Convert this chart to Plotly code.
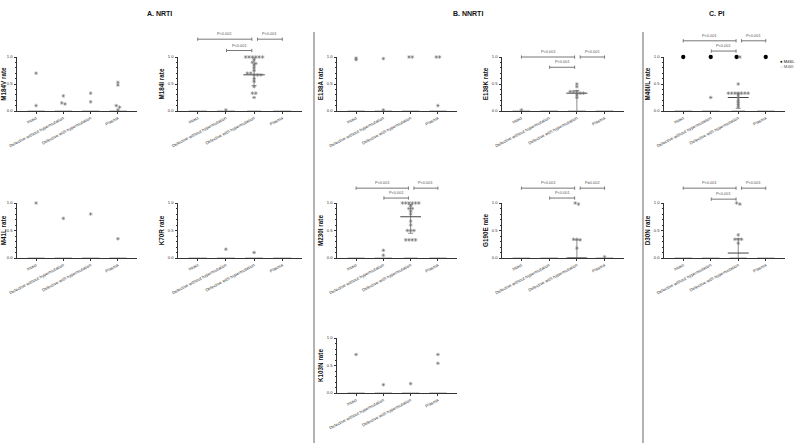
import plotly.graph_objects as go

W, H = 800, 443

categories = ["Intact", "Defective without hypermutation",
              "Defective with hypermutation", "Plasma"]
y_ticks = [0.0, 0.5, 1.0]
y_tick_labels = ["0.0", "0.5", "1.0"]

# ---- non-zero rates per category ----
m184v_vals = [[0.70, 0.10], [0.28, 0.15, 0.13], [0.33, 0.17],
              [0.53, 0.48, 0.10, 0.07, 0.02]]
m184i_vals = [[], [0.02],
              [1.0, 1.0, 1.0, 1.0, 1.0, 1.0, 0.95, 0.90, 0.88, 0.85, 0.80, 0.75,
               0.70, 0.70, 0.67, 0.67, 0.67, 0.60, 0.55, 0.45, 0.33, 0.33, 0.25], []]
m41l_vals = [[1.0], [0.72], [0.80], [0.35]]
k70r_vals = [[], [0.16], [0.10], []]
e138a_vals = [[0.98, 0.95], [0.97, 0.02], [1.0, 1.0], [1.0, 1.0, 0.10]]
m230i_vals = [[], [0.14, 0.05],
              [1.0, 1.0, 1.0, 1.0, 1.0, 1.0, 0.95, 0.90, 0.90, 0.85, 0.80, 0.67,
               0.60, 0.50, 0.50, 0.50, 0.33, 0.33, 0.33, 0.33], []]
k103n_vals = [[0.70], [0.15], [0.17], [0.70, 0.54]]
e138k_vals = [[0.02], [], [0.50, 0.45, 0.36, 0.36, 0.36, 0.33, 0.33, 0.30, 0.25], []]
g190e_vals = [[], [], [1.0, 0.98, 0.34, 0.34, 0.33, 0.18], [0.02]]
m46l_vals = [[1.0], [1.0], [1.0], [1.0]]
m46i_vals = [[], [0.25],
             [1.0, 0.50, 0.33, 0.33, 0.33, 0.33, 0.33, 0.33, 0.33, 0.30, 0.25,
              0.20, 0.16, 0.12, 0.08], []]
d30n_vals = [[], [], [1.0, 0.98, 0.42, 0.34, 0.34, 0.34, 0.27], []]

# number of zero-rate sequences per category
m184v_zero = [9, 9, 9, 9]
m184i_zero = [9, 9, 7, 9]
m41l_zero = [9, 9, 9, 9]
k70r_zero = [9, 9, 9, 9]
e138a_zero = [9, 9, 9, 9]
m230i_zero = [9, 9, 7, 9]
k103n_zero = [9, 9, 9, 9]
e138k_zero = [9, 9, 9, 9]
g190e_zero = [9, 9, 9, 9]
m46_zero = [9, 9, 7, 9]
d30n_zero = [9, 9, 9, 9]

# median, q1, q3 per category (None = no summary drawn)
m184i_stats = [None, None, (0.67, 0.47, 1.0), None]
m230i_stats = [None, None, (0.75, 0.45, 0.97), None]
e138k_stats = [None, None, (0.33, 0.0, 0.38), None]
g190e_stats = [None, None, (0.0, 0.0, 0.33), None]
m46i_stats = [None, None, (0.25, 0.05, 0.33), None]
d30n_stats = [None, None, (0.09, 0.0, 0.35), None]

# p-value brackets (from category, to category, label)
m184i_p = [(0, 2, "P<0.001"), (2, 3, "P<0.001"), (1, 2, "P<0.001")]
e138k_p = [(0, 2, "P<0.001"), (2, 3, "P<0.001"), (1, 2, "P<0.001")]
m46_p = [(0, 2, "P<0.001"), (2, 3, "P<0.001"), (1, 2, "P<0.001")]
m230i_p = [(0, 2, "P<0.001"), (2, 3, "P<0.001"), (1, 2, "P<0.001")]
g190e_p = [(0, 2, "P<0.001"), (2, 3, "P=0.002"), (1, 2, "P<0.001")]
d30n_p = [(0, 2, "P<0.001"), (2, 3, "P<0.001"), (1, 2, "P<0.001")]

# ---- layout geometry (pixels) ----
col_px = {1: (17, 137), 2: (178, 302), 3: (337, 457), 4: (502, 624), 5: (664, 785)}
row_px = {1: (57, 111), 2: (203, 258), 3: (338, 393)}

GRAY = "#727272"
ZGRAY = "#c2c2c2"

panels = [
    dict(t="M184V rate", r=1, c=1, series=[(m184v_vals, "star")], z=m184v_zero),
    dict(t="M184I rate", r=1, c=2, series=[(m184i_vals, "star")], z=m184i_zero,
         stats=m184i_stats, p=m184i_p, lv=(1.33, 1.12)),
    dict(t="M41L rate", r=2, c=1, series=[(m41l_vals, "star")], z=m41l_zero),
    dict(t="K70R rate", r=2, c=2, series=[(k70r_vals, "star")], z=k70r_zero),
    dict(t="E138A rate", r=1, c=3, series=[(e138a_vals, "star")], z=e138a_zero),
    dict(t="M230I rate", r=2, c=3, series=[(m230i_vals, "star")], z=m230i_zero,
         stats=m230i_stats, p=m230i_p, lv=(1.27, 1.09)),
    dict(t="K103N rate", r=3, c=3, series=[(k103n_vals, "star")], z=k103n_zero),
    dict(t="E138K rate", r=1, c=4, series=[(e138k_vals, "star")], z=e138k_zero,
         stats=e138k_stats, p=e138k_p, lv=(1.0, 0.81)),
    dict(t="G190E rate", r=2, c=4, series=[(g190e_vals, "star")], z=g190e_zero,
         stats=g190e_stats, p=g190e_p, lv=(1.27, 1.09)),
    dict(t="M46I/L rate", r=1, c=5, series=[(m46l_vals, "dot"), (m46i_vals, "star")],
         z=m46_zero, stats=m46i_stats, p=m46_p, lv=(1.30, 1.11)),
    dict(t="D30N rate", r=2, c=5, series=[(d30n_vals, "star")], z=d30n_zero,
         stats=d30n_stats, p=d30n_p, lv=(1.27, 1.07)),
]


def swarm(items, cat, dx=0.12, tol=0.03):
    """items: list of (value, series_index); spreads near-equal values sideways"""
    items = sorted(items, key=lambda t: (-t[0], t[1]))
    out = []
    i = 0
    while i < len(items):
        j = i
        while j + 1 < len(items) and items[i][0] - items[j + 1][0] <= tol:
            j += 1
        grp = items[i:j + 1]
        n = len(grp)
        for k, (v, s) in enumerate(grp):
            out.append((cat + (k - (n - 1) / 2) * dx, v, s))
        i = j + 1
    return out


fig = go.Figure()
layout = dict(width=W, height=H, margin=dict(l=0, r=0, t=0, b=0, autoexpand=False),
              paper_bgcolor="white", plot_bgcolor="white", showlegend=False,
              font=dict(family="Liberation Sans, Arial", color="#222"))
shapes, annos = [], []

for idx, p in enumerate(panels, start=1):
    xa, ya = f"x{idx}", f"y{idx}"
    x0, x1 = col_px[p["c"]]
    y0, y1 = row_px[p["r"]]
    layout[f"xaxis{idx}"] = dict(
        domain=[x0 / W, x1 / W], range=[-0.7, 3.7], anchor=ya, automargin=False,
        tickvals=[0, 1, 2, 3], ticktext=categories, tickangle=-28,
        tickfont=dict(size=4.3, color="#333"), ticks="outside", ticklen=2,
        tickcolor="#333", showline=True, linecolor="#333", linewidth=1,
        showgrid=False, zeroline=False, fixedrange=True)
    layout[f"yaxis{idx}"] = dict(
        domain=[1 - y1 / H, 1 - y0 / H], range=[0, 1], anchor=xa, automargin=False,
        tickvals=y_ticks, ticktext=y_tick_labels, tickfont=dict(size=4.2, color="#333"),
        ticks="outside", ticklen=2.5, tickcolor="#333",
        minor=dict(dtick=0.1, ticks="outside", ticklen=1.3, tickcolor="#333"),
        showline=True, linecolor="#333", linewidth=1, showgrid=False, zeroline=False,
        title=dict(text=f"<b>{p['t']}</b>", font=dict(size=6.3, color="#111"), standoff=2),
        fixedrange=True)

    # zero-rate points
    zx, zy = [], []
    for ci, n in enumerate(p["z"]):
        for k in range(n):
            zx.append(ci + (k - (n - 1) / 2) * 0.07)
            zy.append(0.0)
    fig.add_trace(go.Scatter(x=zx, y=zy, xaxis=xa, yaxis=ya, mode="markers",
                             marker=dict(symbol="circle", size=2.2, color=ZGRAY),
                             cliponaxis=False, hoverinfo="skip"))

    # summary statistics (median with IQR)
    for ci, st in enumerate(p.get("stats") or [None] * 4):
        if st is None:
            continue
        med, q1, q3 = st
        fig.add_trace(go.Scatter(x=[ci, ci], y=[q1, q3], xaxis=xa, yaxis=ya, mode="lines",
                                 line=dict(color="#808080", width=0.9), cliponaxis=False))
        for q in (q1, q3):
            if q > 0:
                fig.add_trace(go.Scatter(x=[ci - 0.09, ci + 0.09], y=[q, q], xaxis=xa, yaxis=ya,
                                         mode="lines", line=dict(color="#808080", width=0.9),
                                         cliponaxis=False))
        fig.add_trace(go.Scatter(x=[ci - 0.38, ci + 0.38], y=[med, med], xaxis=xa, yaxis=ya,
                                 mode="lines", line=dict(color="#444", width=1),
                                 cliponaxis=False))

    # non-zero points
    pts = []
    for ci in range(4):
        items = []
        for si, (vals, kind) in enumerate(p["series"]):
            items += [(v, si) for v in vals[ci]]
        pts += swarm(items, ci)
    for si, (vals, kind) in enumerate(p["series"]):
        px_ = [q[0] for q in pts if q[2] == si]
        py_ = [q[1] for q in pts if q[2] == si]
        if kind == "dot":
            mk = dict(symbol="circle", size=4.3, color="#000")
        else:
            mk = dict(symbol="asterisk-open", size=3.0, color=GRAY,
                      line=dict(color=GRAY, width=0.6))
        fig.add_trace(go.Scatter(x=px_, y=py_, xaxis=xa, yaxis=ya, mode="markers",
                                 marker=mk, cliponaxis=False))

    # p-value brackets
    if p.get("p"):
        hi, lo = p["lv"]
        hpx = y1 - y0
        tick = 1.6 / hpx
        for (a, b, lab) in p["p"]:
            if a == 0:
                xs, xe, lvl = a, b - 0.08, hi
            elif a == 2:
                xs, xe, lvl = a + 0.12, b, hi
            else:
                xs, xe, lvl = a + 0.02, b - 0.08, lo
            shapes.append(dict(type="line", xref=xa, yref=f"{ya} domain",
                               x0=xs, x1=xe, y0=lvl, y1=lvl,
                               line=dict(color="#777", width=1)))
            for xe_ in (xs, xe):
                shapes.append(dict(type="line", xref=xa, yref=f"{ya} domain",
                                   x0=xe_, x1=xe_, y0=lvl - tick, y1=lvl + tick,
                                   line=dict(color="#777", width=1)))
            annos.append(dict(xref=xa, yref=f"{ya} domain", x=(xs + xe) / 2,
                              y=lvl + 1.0 / hpx, yanchor="bottom", showarrow=False,
                              text=lab, font=dict(size=3.9, color="#555")))

# group titles
for txt, xp in (("A. NRTI", 145), ("B. NNRTI", 468), ("C. PI", 727)):
    annos.append(dict(xref="paper", yref="paper", x=xp / W, y=1 - 8 / H,
                      text=f"<b>{txt}</b>", showarrow=False,
                      font=dict(size=7, color="#111")))

# separators
for xp in (314, 643):
    shapes.append(dict(type="line", xref="paper", yref="paper",
                       x0=xp / W, x1=xp / W, y0=1 - 32 / H, y1=0,
                       line=dict(color="#8a8a8a", width=1.3)))

# legend for M46L / M46I
annos.append(dict(xref="paper", yref="paper", x=778 / W, y=1 - 57 / H, xanchor="left",
                  showarrow=False, text="● M46L", font=dict(size=4.3, color="#111")))
annos.append(dict(xref="paper", yref="paper", x=778 / W, y=1 - 62 / H, xanchor="left",
                  showarrow=False, text="<span style='color:#999'>○</span> M46I",
                  font=dict(size=4.3, color="#555")))

layout["shapes"] = shapes
layout["annotations"] = annos
fig.update_layout(**layout)
fig.write_html("out.html", config={"displayModeBar": False, "staticPlot": True},
               post_script="document.body.style.margin='0';document.body.style.overflow='hidden';")
